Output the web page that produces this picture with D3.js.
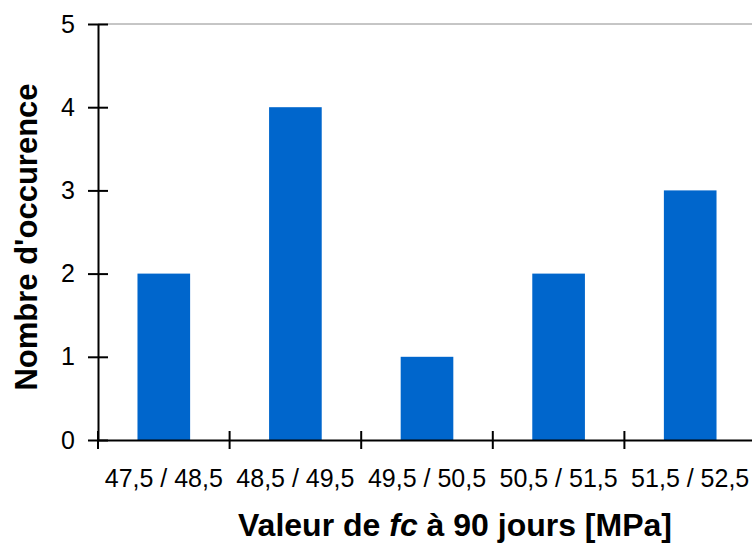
<!DOCTYPE html>
<html>
<head>
<meta charset="utf-8">
<script src="https://cdn.jsdelivr.net/npm/d3@7"></script>
<style>
  html, body { margin: 0; padding: 0; background: #fff; }
  svg { display: block; font-family: "Liberation Sans", Arial, sans-serif; }
</style>
</head>
<body>
<svg id="chart" width="752" height="543"></svg>
<script>
// Classes of compressive strength at 90 days and how many samples fall in each
const categories = ["47,5 / 48,5", "48,5 / 49,5", "49,5 / 50,5", "50,5 / 51,5", "51,5 / 52,5"];
const counts = [2, 4, 1, 2, 3];
const yTicks = [0, 1, 2, 3, 4, 5];

const svg = d3.select("#chart");
const plot = { left: 98, right: 756, top: 24, bottom: 440 };

const x = d3.scaleBand()
  .domain(categories)
  .range([plot.left, plot.right])
  .paddingInner(0.6)
  .paddingOuter(0.3);

const y = d3.scaleLinear()
  .domain([0, 5])
  .range([plot.bottom, plot.top]);

// top frame line of the plot area
svg.append("line")
  .attr("x1", plot.left).attr("x2", plot.right)
  .attr("y1", y(5)).attr("y2", y(5))
  .attr("stroke", "#8c8c8c").attr("stroke-width", 1);

// bars
svg.append("g").selectAll("rect")
  .data(categories.map((c, i) => ({ c, v: counts[i] })))
  .join("rect")
  .attr("x", d => x(d.c))
  .attr("width", x.bandwidth())
  .attr("y", d => y(d.v))
  .attr("height", d => y(0) - y(d.v))
  .attr("fill", "#0066cc");

// y axis: ticks cross the axis line
const yAxis = svg.append("g")
  .attr("transform", `translate(${plot.left},0)`)
  .call(d3.axisLeft(y).tickValues(yTicks).tickFormat(d3.format("d")).tickSize(0).tickPadding(23));
yAxis.attr("font-size", 25).attr("font-family", "Liberation Sans, Arial, sans-serif");
yAxis.select(".domain").attr("stroke", "#000").attr("stroke-width", 2);
yAxis.selectAll(".tick line").remove();
yAxis.selectAll(".tick").append("line")
  .attr("x1", -10).attr("x2", 10)
  .attr("stroke", "#000").attr("stroke-width", 2);
yAxis.selectAll(".tick text").attr("fill", "#000");

// x axis: tick marks at the category boundaries
const xAxis = svg.append("g")
  .attr("transform", `translate(0,${plot.bottom})`)
  .call(d3.axisBottom(x).tickSize(0).tickPadding(29));
xAxis.attr("font-size", 25).attr("font-family", "Liberation Sans, Arial, sans-serif");
xAxis.select(".domain").attr("stroke", "#000").attr("stroke-width", 2);
xAxis.selectAll(".tick text").attr("fill", "#000");
const step = x.step();
const bounds = d3.range(categories.length + 1).map(i => plot.left + i * step);
xAxis.append("g").selectAll("line")
  .data(bounds)
  .join("line")
  .attr("x1", d => d).attr("x2", d => d)
  .attr("y1", -9).attr("y2", 9)
  .attr("stroke", "#000").attr("stroke-width", 2);

// axis titles
const xTitle = svg.append("text")
  .attr("x", 455).attr("y", 536)
  .attr("text-anchor", "middle")
  .attr("font-size", 32).attr("font-weight", "bold");
xTitle.append("tspan").text("Valeur de ");
xTitle.append("tspan").attr("font-style", "italic").text("fc");
xTitle.append("tspan").text(" à 90 jours [MPa]");

svg.append("text")
  .attr("transform", "translate(37,237) rotate(-90)")
  .attr("text-anchor", "middle")
  .attr("font-size", 31).attr("font-weight", "bold")
  .text("Nombre d'occurence");
</script>
</body>
</html>
